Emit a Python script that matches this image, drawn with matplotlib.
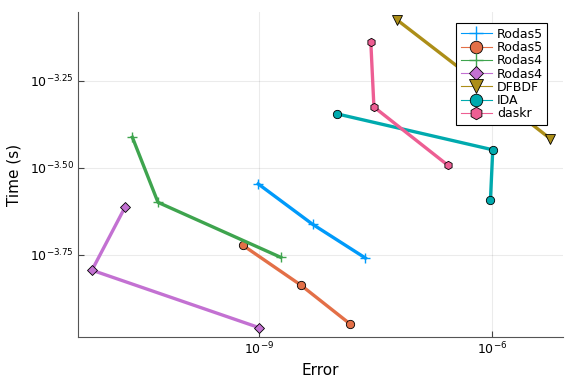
import matplotlib
matplotlib.use("Agg")
import matplotlib.pyplot as plt
from matplotlib.lines import Line2D
import numpy as np

# log10 of error / time
names = ["Rodas5", "Rodas5", "Rodas4", "Rodas4", "DFBDF", "IDA", "daskr"]
log_err = [
    [-9.01, -8.31, -7.63],
    [-9.21, -8.46, -7.83],
    [-10.63, -10.30, -8.72],
    [-10.72, -11.15, -9.00],
    [-7.22, -6.22, -5.25],
    [-7.99, -5.99, -6.02],
    [-7.56, -7.52, -6.57],
]
log_time = [
    [-3.546, -3.662, -3.759],
    [-3.722, -3.837, -3.948],
    [-3.412, -3.599, -3.757],
    [-3.611, -3.794, -3.959],
    [-3.075, -3.247, -3.416],
    [-3.345, -3.448, -3.593],
    [-3.139, -3.325, -3.492],
]
colors = ["#009AFA", "#E36F47", "#3EA44E", "#C371D2", "#AC8E18", "#00AAAE", "#ED5E93"]
markers = ["+", "o", "+", "D", "v", "o", "h"]
msizes = [7, 6, 7, 5, 7, 6, 6]

xticks = [1e-9, 1e-6]
xticklabels = [r"$10^{-9}$", r"$10^{-6}$"]
yticks = [10 ** -3.75, 10 ** -3.5, 10 ** -3.25]
yticklabels = [r"$10^{-3.75}$", r"$10^{-3.50}$", r"$10^{-3.25}$"]

fig = plt.figure(figsize=(5.76, 3.84), dpi=100)
ax = fig.add_axes([0.1354, 0.1224, 0.842, 0.8463])

handles = []
for i in range(len(names)):
    x = 10 ** np.array(log_err[i])
    y = 10 ** np.array(log_time[i])
    edge = colors[i] if markers[i] == "+" else "black"
    ax.plot(x, y, color=colors[i], lw=2.4, marker=markers[i], ms=msizes[i],
            markeredgecolor=edge, markeredgewidth=0.6 if edge == "black" else 1.0,
            markerfacecolor=colors[i], zorder=3)
    handles.append(Line2D([], [], color=colors[i], lw=0.8, marker=markers[i],
                          ms=msizes[i] * 1.5, markerfacecolor=colors[i],
                          markeredgecolor=edge,
                          markeredgewidth=0.6 if edge == "black" else 1.0))

ax.set_xscale("log")
ax.set_yscale("log")
ax.set_xlim(10 ** -11.33, 10 ** -5.086)
ax.set_ylim(10 ** -3.986, 10 ** -3.052)
ax.set_xticks(xticks)
ax.set_xticklabels(xticklabels)
ax.set_yticks(yticks)
ax.set_yticklabels(yticklabels)
ax.minorticks_off()
ax.tick_params(direction="in", labelsize=9, length=4, color="#444444", pad=3)
ax.grid(True, color="#000000", alpha=0.08, lw=0.8)
ax.spines["top"].set_visible(False)
ax.spines["right"].set_visible(False)
for s in ["left", "bottom"]:
    ax.spines[s].set_color("#555555")

ax.set_xlabel("Error", fontsize=11)
ax.set_ylabel("Time (s)", fontsize=11, labelpad=6)

leg = ax.legend(handles, names, loc="upper right", fontsize=9, fancybox=False,
                framealpha=1, edgecolor="black", handlelength=2.5,
                bbox_to_anchor=(0.968, 0.965), borderaxespad=0,
                labelspacing=0.02, handletextpad=0.4, borderpad=0.35)
leg.get_frame().set_linewidth(0.8)
leg.set_zorder(10)

fig.savefig("out.png", dpi=100)
